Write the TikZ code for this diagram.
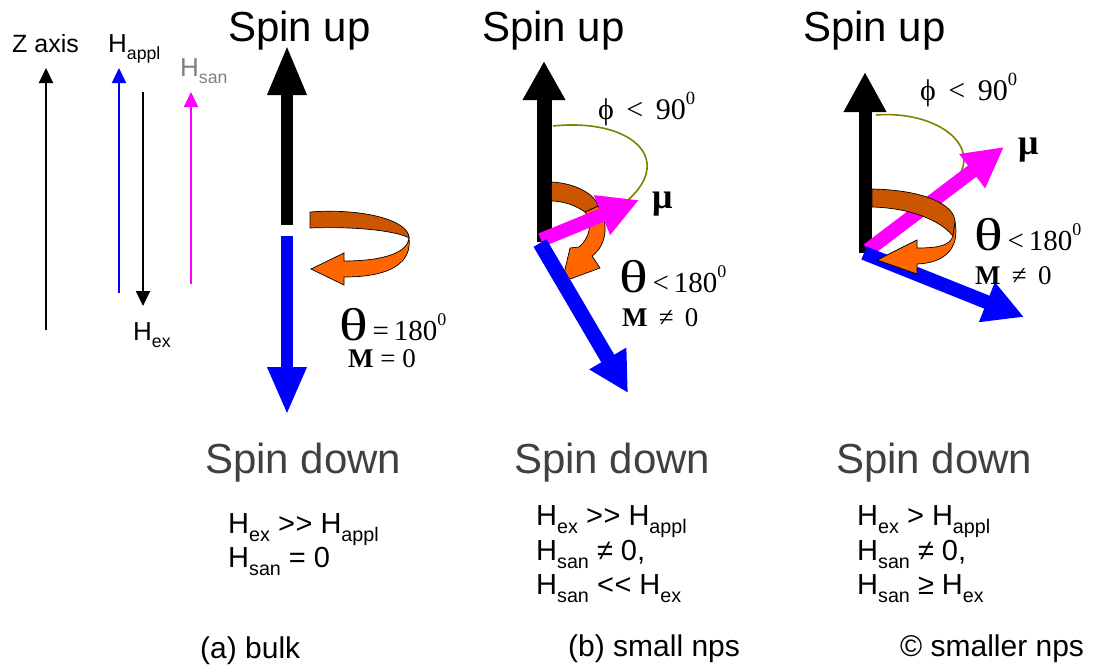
\documentclass[tikz,border=0pt]{standalone}
\usepackage{fontspec}
\setmainfont{Liberation Sans}
\newfontfamily\tms{Liberation Serif}
\usetikzlibrary{arrows.meta}
\definecolor{olivec}{RGB}{128,128,0}
\definecolor{odark}{RGB}{204,85,0}
\definecolor{olight}{RGB}{255,102,0}
\definecolor{sgrey}{RGB}{64,64,64}
\definecolor{lgrey}{RGB}{128,128,128}
\definecolor{mag}{RGB}{255,0,255}
\definecolor{blu}{RGB}{0,0,255}
\newcommand\lo[1]{\raisebox{-0.28em}{\scalebox{0.68}{#1}}}
\newcommand\hi[1]{\raisebox{0.5em}{\scalebox{0.62}{#1}}}
\newcommand\mygg{>\kern0.02em>}
\newcommand\myll{<\kern0.02em<}
\newcommand\thbig{{\fontsize{46}{48}\selectfont\scalebox{1.3}[1]{θ}}}
\tikzset{
  thinarr/.style={line width=2pt,-{Triangle[width=14pt,length=15pt]}},
  fatarr/.style={line width=14pt,-{Triangle[width=40pt,length=40pt]}},
  ribbon/.style={draw=black,line width=0.7pt},
  lbl/.style={inner sep=0pt,anchor=base west},
  bigtxt/.style={font=\fontsize{42}{44}\selectfont},
  captxt/.style={font=\fontsize{30}{32}\selectfont},
  rowtxt/.style={font=\fontsize{29}{31}\selectfont},
  timtxt/.style={font=\tms\fontsize{29}{31}\selectfont},
}
\begin{document}
\begin{tikzpicture}[x=1pt,y=-1pt]
\useasboundingbox (0,0) rectangle (1100,667);
% ---------------- legend
\node[lbl,font=\fontsize{25}{27}\selectfont] (zl) at (12,52) {Z axis};
\node[lbl,font=\fontsize{26}{28}\selectfont] (hal) at (108,52) {H\lo{appl}};
\node[lbl,font=\fontsize{26}{28}\selectfont,text=lgrey] (hsl) at (180,76) {H\lo{san}};
\node[lbl,font=\fontsize{26}{28}\selectfont] (hel) at (133,340) {H\lo{ex}};
\coordinate (z0) at (46,330); \coordinate (z1) at (46,68);
\coordinate (a0) at (119,293); \coordinate (a1) at (119,68);
\coordinate (e0) at (143,92); \coordinate (e1) at (143,306);
\coordinate (s0) at (191,284); \coordinate (s1) at (191,92);
\draw[thinarr,black] (z0) -- (z1);
\draw[thinarr,blu] (a0) -- (a1);
\draw[thinarr,black] (e0) -- (e1);
\draw[thinarr,mag] (s0) -- (s1);
% ---------------- panel (a)
\node[lbl,bigtxt] (upa) at (228,41) {Spin up};
\node[lbl,bigtxt,text=sgrey] (dna) at (205,473) {Spin down};
\coordinate (ba0) at (287,225); \coordinate (ba1) at (287,45);
\coordinate (la0) at (287,236); \coordinate (la1) at (287,415);
\draw[line width=12pt,-{Triangle[width=36pt,length=50pt]}] (ba0) -- (ba1);
\draw[line width=12pt,blu,-{Triangle[width=36pt,length=48pt]}] (la0) -- (la1);
\path[ribbon,fill=odark] (310,212) .. controls (362,208) and (409,220) .. (409,238)
   .. controls (400,232) and (360,226) .. (310,228) -- cycle;
\path[ribbon,fill=olight] (409,238) .. controls (408,252) and (385,261) .. (344,261)
   -- (344,253) -- (311,269) -- (344,285) -- (344,277)
   .. controls (392,277) and (412,262) .. (409,238) -- cycle;
\node[lbl,timtxt] (tha) at (339,340) {\thbig\,=\,180\hi{0}};
\node[lbl,font=\tms\fontsize{27}{29}\selectfont] (ma) at (348,367) {\textbf{M} = 0};
\node[lbl,rowtxt] (ta1) at (228,533) {H\lo{ex} \mygg{} H\lo{appl}};
\node[lbl,rowtxt] (ta2) at (228,567) {H\lo{san} = 0};
\node[lbl,captxt] (ca) at (200,658) {(a) bulk};
% ---------------- panel (b)
\node[lbl,bigtxt] (upb) at (482,41) {Spin up};
\node[lbl,bigtxt,text=sgrey] (dnb) at (514,473) {Spin down};
\coordinate (bb0) at (544,242); \coordinate (bb1) at (544,61);
\coordinate (mb0) at (541,240); \coordinate (mb1) at (639,200);
\coordinate (lb0) at (540,243); \coordinate (lb1) at (628,393);
\path[ribbon,fill=olight] (598,206) .. controls (610,224) and (606,246) .. (592,256)
   -- (600,268) -- (562,282) -- (570,248) -- (579,247)
   .. controls (590,238) and (593,222) .. (585,212) -- cycle;
\path[ribbon,fill=odark] (551,182) .. controls (575,183) and (595,194) .. (598,206)
   -- (585,212) .. controls (575,205) and (563,201) .. (551,201) -- cycle;
\draw[line width=15pt,-{Triangle[width=40pt,length=39pt]}] (bb0) -- (bb1);
\draw[olivec,line width=1.6pt] (553,126) .. controls (630,118) and (675,158) .. (628,200);
\draw[fatarr,mag,line width=14pt] (mb0) -- (mb1);
\draw[fatarr,blu,line width=15pt] (lb0) -- (lb1);
\node[lbl,font=\tms\fontsize{30}{32}\selectfont] (phb) at (598,119) {ϕ\, <\, 90\hi{0}};
\node[lbl,font=\tms\bfseries\fontsize{36}{38}\selectfont] (mub) at (652,208) {μ};
\node[lbl,timtxt] (thb) at (619,292) {\thbig\,<\,180\hi{0}};
\node[lbl,font=\tms\fontsize{27}{29}\selectfont] (mb) at (622,326) {\textbf{M} \,≠\, 0};
\node[lbl,rowtxt] (tb1) at (536,525) {H\lo{ex} \mygg{} H\lo{appl}};
\node[lbl,rowtxt] (tb2) at (536,560) {H\lo{san} ≠ 0,};
\node[lbl,rowtxt] (tb3) at (536,594) {H\lo{san} \myll{} H\lo{ex}};
\node[lbl,captxt] (cb) at (568,656) {(b) small nps};
% ---------------- panel (c)
\node[lbl,bigtxt] (upc) at (803,41) {Spin up};
\node[lbl,bigtxt,text=sgrey] (dnc) at (836,473) {Spin down};
\coordinate (bc0) at (865,253); \coordinate (bc1) at (865,72);
\coordinate (mc0) at (868,250); \coordinate (mc1) at (1004,147);
\coordinate (lc0) at (864,253); \coordinate (lc1) at (1024,317);
\draw[line width=13pt,-{Triangle[width=40pt,length=40pt]}] (bc0) -- (bc1);
\draw[olivec,line width=1.6pt] (876,115) .. controls (940,110) and (990,150) .. (949,188);
\draw[fatarr,mag,line width=14pt] (mc0) -- (mc1);
\draw[fatarr,blu,line width=14pt] (lc0) -- (lc1);
\path[ribbon,fill=odark] (872,189) .. controls (925,190) and (955,205) .. (955,222)
   -- (953,236) .. controls (940,220) and (910,208) .. (872,207) -- cycle;
\path[ribbon,fill=olight] (953,236) .. controls (950,245) and (940,248) .. (917,248)
   -- (917,240) -- (877,260) -- (917,274) -- (917,264)
   .. controls (945,263) and (960,248) .. (955,222) -- cycle;
\node[lbl,font=\tms\fontsize{30}{32}\selectfont] (phc) at (920,100) {ϕ\, <\, 90\hi{0}};
\node[lbl,font=\tms\bfseries\fontsize{36}{38}\selectfont] (muc) at (1018,154) {μ};
\node[lbl,timtxt] (thc) at (974,250) {\thbig\,<\,180\hi{0}};
\node[lbl,font=\tms\fontsize{27}{29}\selectfont] (mc) at (975,284) {\textbf{M} \,≠\, 0};
\node[lbl,rowtxt] (tc1) at (857,525) {H\lo{ex} > H\lo{appl}};
\node[lbl,rowtxt] (tc2) at (857,560) {H\lo{san} ≠ 0,};
\node[lbl,rowtxt] (tc3) at (857,594) {H\lo{san} ≥ H\lo{ex}};
\node[lbl,captxt] (cc) at (900,656) {© smaller nps};
\end{tikzpicture}
\end{document}
